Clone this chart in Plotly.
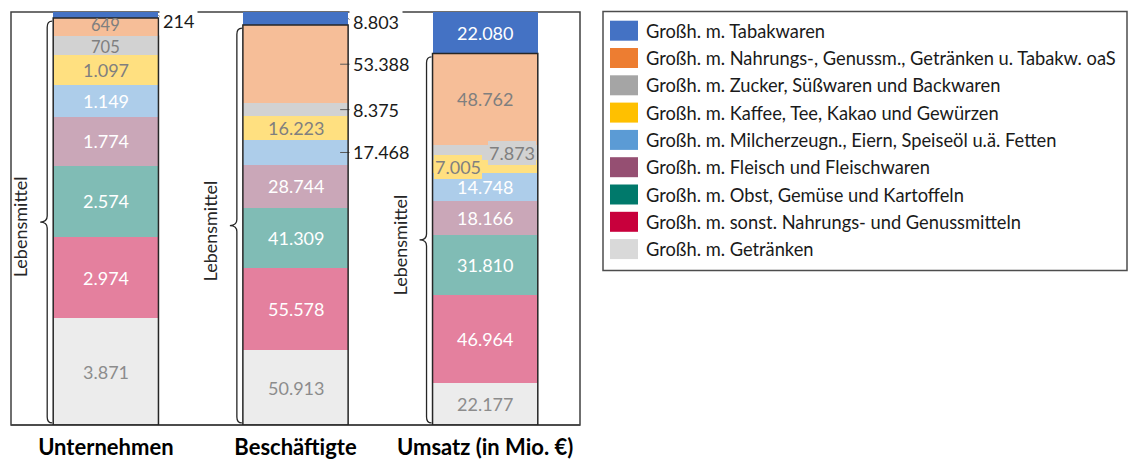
import plotly.graph_objects as go

# Kennzahlen des Großhandels mit Nahrungsmitteln, Getränken und Tabakwaren
categories = ["Unternehmen", "Beschäftigte", "Umsatz (in Mio. €)"]

series_names = [
    "Großh. m. Tabakwaren",
    "Großh. m. Nahrungs-, Genussm., Getränken u. Tabakw. oaS",
    "Großh. m. Zucker, Süßwaren und Backwaren",
    "Großh. m. Kaffee, Tee, Kakao und Gewürzen",
    "Großh. m. Milcherzeugn., Eiern, Speiseöl u.ä. Fetten",
    "Großh. m. Fleisch und Fleischwaren",
    "Großh. m. Obst, Gemüse und Kartoffeln",
    "Großh. m. sonst. Nahrungs- und Genussmitteln",
    "Großh. m. Getränken",
]

tabak = [214, 8803, 22080]
nahrung = [649, 53388, 48762]
zucker = [705, 8375, 7873]
kaffee = [1097, 16223, 7005]
milch = [1149, 17468, 14748]
fleisch = [1774, 28744, 18166]
obst = [2574, 41309, 31810]
sonst = [2974, 55578, 46964]
getraenke = [3871, 50913, 22177]

group_label = "Lebensmittel"

# top-to-bottom order, same as the legend
series_values = [tabak, nahrung, zucker, kaffee, milch, fleisch, obst, sonst, getraenke]

# ---------------------------------------------------------------- styling
FONT = "Lato, Carlito, Calibri, sans-serif"
base_colors = ["#4472C4", "#ED7D31", "#A5A5A5", "#FFC000", "#5B9BD5",
               "#954F72", "#00796B", "#C8003C", "#D9D9D9"]
label_colors = ["white", "#7F7F7F", "#7F7F7F", "#7F7F7F", "white",
                "white", "white", "white", "#8C8C8C"]
VALUE_SIZE = 18


def tint(hex_color, amount):
    h = hex_color.lstrip("#")
    rgb = [int(h[i:i + 2], 16) for i in (0, 2, 4)]
    mixed = [round(c + (255 - c) * amount) for c in rgb]
    return "#{:02X}{:02X}{:02X}".format(*mixed)


bar_colors = [base_colors[0]] + [tint(c, 0.5) for c in base_colors[1:]]

W_PX, H_PX = 1129, 459
L, T = 11, 12            # plot area origin (px)
PW, PH = 569, 413        # plot area size (px)
BAR_W = 0.555
SLOT = PW / len(categories)
HALF_BAR_PX = BAR_W / 2 * SLOT


def paper_x(px):
    return (px - L) / PW


def paper_y(py):
    return 1 - (py - T) / PH


def bar_center_px(i):
    return L + (i + 0.5) * SLOT


def fmt(v):
    return f"{v:,}".replace(",", ".")


fig = go.Figure()

# stack bottom-up, so the last series is added first
for k in reversed(range(len(series_names))):
    fig.add_trace(go.Bar(
        x=categories,
        y=series_values[k],
        name=series_names[k],
        marker=dict(color=bar_colors[k], line=dict(width=0)),
        width=BAR_W,
        showlegend=False,
        hoverinfo="x+y+name",
    ))

totals = [sum(s[i] for s in series_values) for i in range(len(categories))]

# segment extents in percent of each bar (top-to-bottom)
seg_top, seg_bot = [], []
for k in range(len(series_values)):
    tops, bots = [], []
    for i in range(len(categories)):
        below = sum(series_values[j][i] for j in range(k + 1, len(series_values)))
        bots.append(100 * below / totals[i])
        tops.append(100 * (below + series_values[k][i]) / totals[i])
    seg_top.append(tops)
    seg_bot.append(bots)

# label placement: "out" = right of the bar, "right"/"left" = inside with backdrop,
# "tight" = thin segment, slightly smaller text
placement = {
    (0, 0): ("out", -6.5),
    (0, 1): ("out", -4),
    (1, 1): ("out", 0),
    (2, 1): ("out", 0),
    (4, 1): ("out", 0),
    (2, 2): ("right", 0),
    (3, 2): ("left", 0),
    (1, 0): ("tight", 1.5),
    (2, 0): ("tight", -1.5),
}

annotations = []
shapes = []
for k in range(len(series_values)):
    for i in range(len(categories)):
        yc = (seg_top[k][i] + seg_bot[k][i]) / 2
        txt = fmt(series_values[k][i])
        mode, yshift = placement.get((k, i), ("in", 0))
        if mode in ("in", "tight"):
            annotations.append(dict(
                x=categories[i], y=yc, xref="x", yref="y", text=txt,
                xanchor="center", yanchor="middle", showarrow=False, yshift=yshift,
                font=dict(family=FONT, size=VALUE_SIZE if mode == "in" else 16.5,
                          color=label_colors[k])))
        elif mode == "out":
            right_px = bar_center_px(i) + HALF_BAR_PX
            annotations.append(dict(
                x=paper_x(right_px + 1), y=yc, xref="paper", yref="y", text=txt,
                xanchor="left", yanchor="middle", yshift=yshift, showarrow=False,
                bgcolor="white", borderpad=3,
                font=dict(family=FONT, size=VALUE_SIZE, color="#1A1A1A")))
            if yshift == 0:
                shapes.append(dict(
                    type="line", xref="paper", yref="y",
                    x0=paper_x(right_px - 8), x1=paper_x(right_px + 3), y0=yc, y1=yc,
                    line=dict(color="#595959", width=1), layer="above"))
            else:
                dy = -yshift / PH * 100
                shapes.append(dict(
                    type="line", xref="paper", yref="y",
                    x0=paper_x(right_px), x1=paper_x(right_px + 5), y0=yc, y1=yc - dy,
                    line=dict(color="#595959", width=1), layer="above"))
        else:
            edge = bar_center_px(i) + (HALF_BAR_PX - 2 if mode == "right" else -HALF_BAR_PX + 1)
            annotations.append(dict(
                x=paper_x(edge), y=yc, xref="paper", yref="y", text=txt,
                xanchor="right" if mode == "right" else "left", yanchor="middle",
                showarrow=False, bgcolor=bar_colors[k], borderpad=1, borderwidth=0,
                font=dict(family=FONT, size=VALUE_SIZE, color=label_colors[k])))

# frame of the plotting area: top/left/right below the bars, bottom above
shapes.append(dict(type="rect", xref="paper", yref="paper", x0=0, x1=1, y0=0, y1=1,
                   line=dict(color="#404040", width=1.5), layer="below"))
shapes.append(dict(type="line", xref="paper", yref="paper", x0=0, x1=1, y0=0, y1=0,
                   line=dict(color="#404040", width=1.5), layer="above"))

# outline and curly brace around the food part of every bar
r = 6 / PH * 100
for i in range(len(categories)):
    food_top = seg_bot[0][i]
    left_px = bar_center_px(i) - HALF_BAR_PX
    right_px = bar_center_px(i) + HALF_BAR_PX
    shapes.append(dict(type="rect", xref="paper", yref="y",
                       x0=paper_x(left_px), x1=paper_x(right_px), y0=0, y1=food_top,
                       line=dict(color="#262626", width=1.5), layer="above"))

    ytop = food_top - 0.8
    ybot = 0.5
    ymid = (ytop + ybot) / 2
    xr = paper_x(left_px - 1)
    xv = paper_x(left_px - 6)
    xn = paper_x(left_px - 13)
    path = (f"M{xr},{ytop} Q{xv},{ytop} {xv},{ytop - r} "
            f"L{xv},{ymid + r} Q{xv},{ymid} {xn},{ymid} "
            f"Q{xv},{ymid} {xv},{ymid - r} "
            f"L{xv},{ybot + r} Q{xv},{ybot} {xr},{ybot}")
    shapes.append(dict(type="path", xref="paper", yref="y", path=path,
                       line=dict(color="#262626", width=1.3), layer="above"))
    annotations.append(dict(
        x=paper_x(left_px - 33), y=ymid, xref="paper", yref="y", text=group_label,
        xanchor="center", yanchor="middle", textangle=-90, showarrow=False, yshift=-5,
        font=dict(family=FONT, size=18, color="#262626")))

# legend box with swatches
LEG_X0, LEG_X1, LEG_Y0, LEG_Y1 = 603, 1127, 11.5, 270.5
shapes.append(dict(type="rect", xref="paper", yref="paper",
                   x0=paper_x(LEG_X0), x1=paper_x(LEG_X1),
                   y0=paper_y(LEG_Y1), y1=paper_y(LEG_Y0),
                   line=dict(color="#4D4D4D", width=1.5), layer="above"))
for k, name in enumerate(series_names):
    cy = 30.7 + k * 27.3
    shapes.append(dict(type="rect", xref="paper", yref="paper",
                       x0=paper_x(610), x1=paper_x(638),
                       y0=paper_y(cy + 10), y1=paper_y(cy - 10),
                       fillcolor=base_colors[k], line=dict(width=0), layer="above"))
    annotations.append(dict(
        x=paper_x(644), y=paper_y(cy), xref="paper", yref="paper", text=name,
        xanchor="left", yanchor="middle", showarrow=False,
        font=dict(family=FONT, size=18.3, color="#1A1A1A")))

fig.update_layout(
    width=W_PX, height=H_PX,
    margin=dict(l=L, r=W_PX - L - PW, t=T, b=H_PX - T - PH, pad=0, autoexpand=False),
    barmode="stack",
    barnorm="percent",
    paper_bgcolor="white",
    plot_bgcolor="white",
    showlegend=False,
    shapes=shapes,
    annotations=annotations,
    xaxis=dict(
        type="category", range=[-0.5, len(categories) - 0.5],
        showgrid=False, zeroline=False, showline=False, ticks="",
        automargin=False, ticklabelstandoff=7,
        tickfont=dict(family=FONT, size=22, color="black", weight="bold"),
    ),
    yaxis=dict(range=[0, 100], showgrid=False, zeroline=False, automargin=False,
               showticklabels=False, showline=False, ticks=""),
)

fig.write_html("out.html")
